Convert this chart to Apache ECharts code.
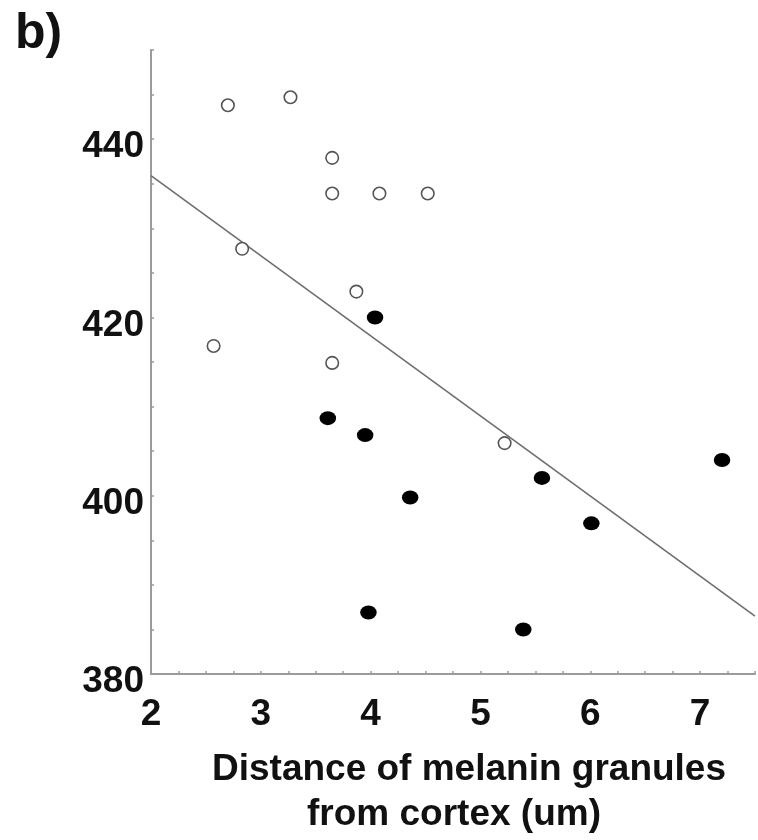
<!DOCTYPE html>
<html>
<head>
<meta charset="utf-8">
<script src="https://cdn.jsdelivr.net/npm/echarts@6/dist/echarts.min.js"></script>
<style>
  html, body { margin: 0; padding: 0; background: #fff; }
  #main { width: 758px; height: 840px; }
</style>
</head>
<body>
<div id="main"></div>
<script>
  // open circles (upper group)
  const openX = [2.70, 3.27, 3.65, 3.65, 4.08, 4.52, 2.83, 3.87, 2.57, 3.65, 5.22]
  const openY = [443.8, 444.7, 437.9, 433.9, 433.9, 433.9, 427.7, 422.9, 416.8, 414.9, 405.9]
  // filled dots
  const fillX = [4.04, 3.61, 3.95, 4.36, 3.98, 7.20, 5.56, 6.01, 5.39]
  const fillY = [420.0, 408.7, 406.8, 399.8, 386.9, 404.0, 402.0, 396.9, 385.0]
  // fitted line ends
  const lineX = [2, 7.5]
  const lineY = [435.9, 386.5]
  const xLabels = [2, 3, 4, 5, 6, 7]
  const yLabels = [380, 400, 420, 440]
  const titleLines = ['Distance of melanin granules', 'from cortex (um)']

  const font = 'Liberation Sans, Arial, sans-serif'
  const pair = (xs, ys) => xs.map((x, i) => [x, ys[i]])

  let myEcharts = echarts.init(document.getElementById('main'), null, { renderer: 'canvas' })
  let option = {
    animation: false,
    backgroundColor: '#fff',
    grid: { left: 151, right: 2, top: 50, bottom: 166, containLabel: false },
    title: {
      text: 'b)',
      left: 10,
      top: 4,
      textStyle: { fontFamily: font, fontSize: 50, fontWeight: 'bold', color: '#111' }
    },
    xAxis: {
      type: 'value',
      min: 2,
      max: 7.5,
      interval: 0.25,
      splitLine: { show: false },
      axisLine: { lineStyle: { color: '#9a9a9a', width: 2 } },
      axisTick: { inside: true, length: 3, lineStyle: { color: '#9a9a9a', width: 1.5 } },
      axisLabel: {
        margin: 22,
        fontFamily: font,
        fontSize: 37,
        fontWeight: 'bold',
        color: '#111',
        formatter: v => xLabels.includes(v) ? String(v) : ''
      }
    },
    yAxis: {
      type: 'value',
      min: 380,
      max: 450,
      interval: 5,
      splitLine: { show: false },
      axisLine: { lineStyle: { color: '#9a9a9a', width: 2 } },
      axisTick: { inside: true, length: 3, lineStyle: { color: '#9a9a9a', width: 1.5 } },
      axisLabel: {
        margin: 7,
        verticalAlign: 'top',
        lineHeight: 16,
        fontFamily: font,
        fontSize: 37,
        fontWeight: 'bold',
        color: '#111',
        formatter: v => yLabels.includes(v) ? String(v) : ''
      }
    },
    graphic: [
      {
        type: 'text', left: 212, top: 751,
        style: { text: titleLines[0], font: 'bold 37px ' + font, fill: '#111' }
      },
      {
        type: 'text', left: 307, top: 796,
        style: { text: titleLines[1], font: 'bold 37px ' + font, fill: '#111' }
      }
    ],
    series: [
      {
        type: 'line',
        data: pair(lineX, lineY),
        symbol: 'none',
        lineStyle: { color: '#6e6e6e', width: 1.6 },
        z: 1
      },
      {
        type: 'scatter',
        data: pair(openX, openY),
        symbol: 'circle',
        symbolSize: 12.5,
        itemStyle: { color: '#fff', borderColor: '#555', borderWidth: 1.6, opacity: 1 },
        z: 3
      },
      {
        type: 'scatter',
        data: pair(fillX, fillY),
        symbol: 'circle',
        symbolSize: [16.5, 14],
        itemStyle: { color: '#000', opacity: 1 },
        z: 4
      }
    ]
  }
  myEcharts.setOption(option)
</script>
</body>
</html>
